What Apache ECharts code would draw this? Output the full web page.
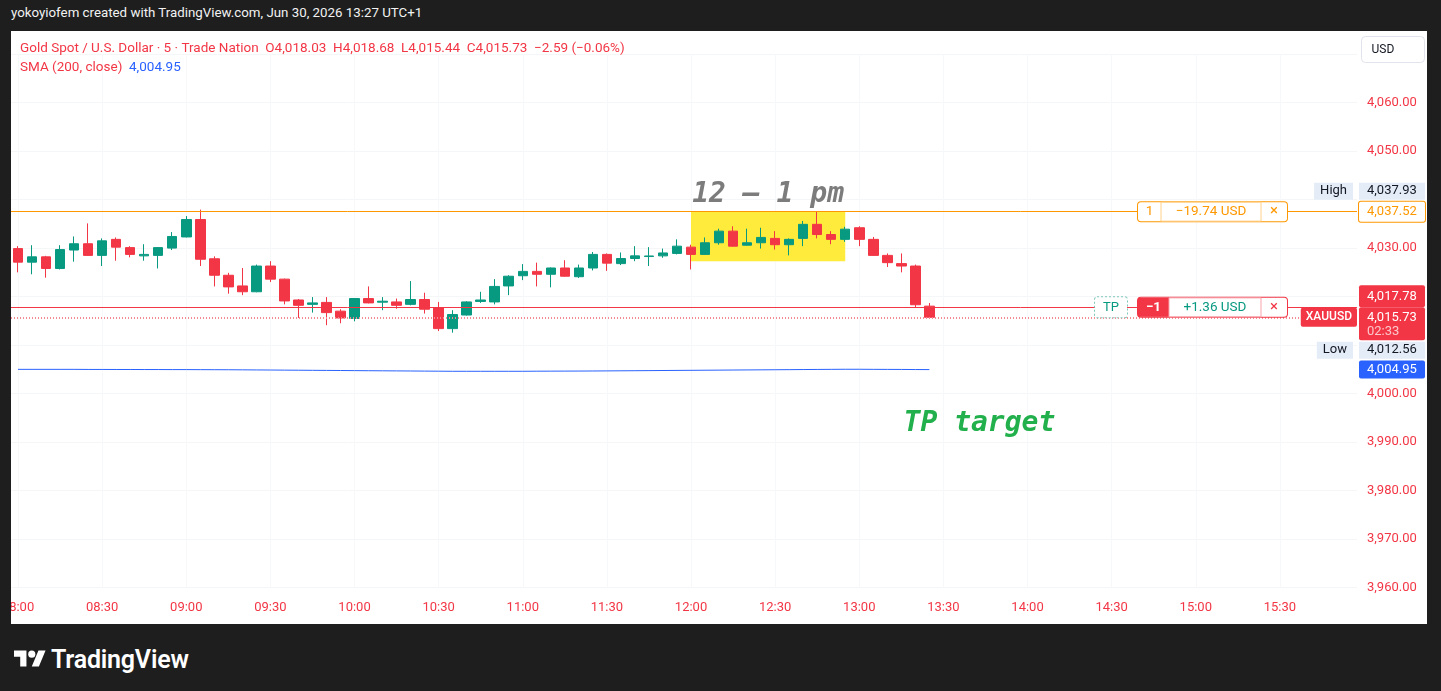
<!DOCTYPE html>
<html><head><meta charset="utf-8">
<script src="https://cdn.jsdelivr.net/npm/echarts@6/dist/echarts.min.js"></script>
<style>
html,body{margin:0;padding:0;background:#1e1e1e;width:1441px;height:691px;overflow:hidden;}
#title{position:absolute;left:11px;top:5px;color:#f2f2f2;font:13.3px Roboto,"Noto Sans",sans-serif;white-space:nowrap;}
#chart{position:absolute;left:11px;top:31px;width:1416px;height:593px;background:#fff;}
#logo{position:absolute;left:14px;top:645px;display:flex;align-items:center;}
#logo span{font:600 25px Roboto,"Noto Sans",sans-serif;color:#fff;margin-left:5px;letter-spacing:-0.2px;}
</style></head><body>
<div id="title">yokoyiofem created with TradingView.com, Jun 30, 2026 13:27 UTC+1</div>
<div id="chart"></div>
<div id="logo"><svg width="32" height="25" viewBox="0 0 36 28"><path fill="#fff" d="M14 22H7V11H0V4h14v18zM28 22h-8l7.5-18h8L28 22z"/><circle fill="#fff" cx="20" cy="8" r="4"/></svg><span>TradingView</span></div>
<script>
// ---------- data ----------
const categories = [
'08:00','08:05','08:10','08:15','08:20','08:25','08:30','08:35','08:40','08:45','08:50','08:55',
'09:00','09:05','09:10','09:15','09:20','09:25','09:30','09:35','09:40','09:45','09:50','09:55',
'10:00','10:05','10:10','10:15','10:20','10:25','10:30','10:35','10:40','10:45','10:50','10:55',
'11:00','11:05','11:10','11:15','11:20','11:25','11:30','11:35','11:40','11:45','11:50','11:55',
'12:00','12:05','12:10','12:15','12:20','12:25','12:30','12:35','12:40','12:45','12:50','12:55',
'13:00','13:05','13:10','13:15','13:20','13:25','13:30','13:35','13:40','13:45','13:50','13:55',
'14:00','14:05','14:10','14:15','14:20','14:25','14:30','14:35','14:40','14:45','14:50','14:55',
'15:00','15:05','15:10','15:15','15:20','15:25','15:30','15:35','15:40','15:45','15:50','15:55'
];
const opens = [
4029.9,4027.1,4028.2,4025.8,4029.6,4030.9,4028.5,4031.8,4030.1,4028.4,4028.5,4030.0,
4032.3,4035.9,4027.8,4024.4,4022.2,4021.0,4026.3,4023.6,4019.3,4018.4,4018.8,4017.0,
4015.5,4019.6,4018.85,4018.9,4018.4,4019.4,4017.7,4013.4,4016.2,4019.0,4018.9,4022.2,
4024.3,4025.2,4024.6,4025.9,4024.1,4025.9,4028.7,4026.8,4027.85,4028.26,4028.4,4028.9,
4030.2,4028.7,4031.1,4033.5,4030.6,4031.1,4032.0,4030.7,4032.0,4034.9,4032.8,4031.8,
4034.2,4031.8,4028.5,4026.8,4026.3,4018.03
];
const highs = [
4030.4,4030.6,4028.4,4030.6,4032.4,4035.1,4032.0,4032.2,4030.4,4030.8,4030.2,4033.3,
4036.6,4037.93,4028.3,4024.9,4025.9,4026.6,4027.3,4023.7,4019.5,4019.9,4019.9,4017.4,
4019.7,4022.1,4019.9,4019.6,4023.2,4020.8,4018.9,4017.2,4019.05,4021.0,4023.6,4024.4,
4026.7,4027.0,4026.0,4027.5,4026.6,4029.2,4028.9,4029.1,4030.4,4030.2,4029.9,4031.8,
4030.7,4032.2,4034.0,4034.5,4034.0,4034.2,4033.5,4032.0,4035.6,4037.45,4033.5,4034.4,
4034.5,4032.3,4028.9,4028.9,4026.6,4018.68
];
const lows = [
4025.0,4024.6,4023.9,4025.6,4027.2,4028.4,4026.3,4027.4,4028.1,4027.4,4025.8,4029.6,
4032.2,4026.3,4022.1,4020.6,4020.3,4020.9,4023.0,4018.4,4015.6,4016.7,4014.1,4014.5,
4014.9,4018.6,4017.2,4017.5,4018.2,4016.5,4012.9,4012.56,4016.1,4018.7,4018.4,4020.3,
4023.4,4022.1,4021.9,4024.1,4023.85,4025.4,4025.3,4026.5,4027.3,4026.3,4028.0,4028.7,
4025.6,4028.6,4030.7,4030.3,4030.5,4029.9,4029.7,4028.5,4030.4,4032.0,4030.8,4031.3,
4030.4,4028.4,4026.1,4025.0,4017.8,4015.44
];
const closes = [
4027.1,4028.2,4025.8,4029.7,4030.9,4028.5,4031.5,4030.2,4028.7,4028.7,4030.1,4032.4,
4035.9,4027.7,4024.4,4022.0,4021.0,4026.3,4023.6,4019.1,4018.2,4018.7,4016.7,4015.6,
4019.6,4018.7,4019.05,4018.2,4019.4,4017.4,4013.4,4016.3,4018.9,4019.3,4022.1,4024.2,
4025.2,4024.6,4025.9,4024.2,4025.9,4028.7,4026.9,4027.85,4028.4,4028.38,4029.0,4030.4,
4028.7,4031.1,4033.5,4030.4,4031.1,4032.2,4030.7,4031.8,4034.9,4032.8,4031.8,4033.9,
4031.8,4028.5,4027.0,4026.3,4018.32,4015.73
];
const smaValues = [
4005.0,4005.0,4005.0,4005.0,4005.0,4004.98,4004.98,4004.97,4004.97,4004.96,4004.96,4004.95,
4004.95,4004.94,4004.93,4004.92,4004.9,4004.88,4004.86,4004.84,4004.82,4004.8,4004.78,4004.76,
4004.74,4004.72,4004.7,4004.68,4004.66,4004.64,4004.62,4004.6,4004.6,4004.6,4004.6,4004.6,
4004.6,4004.62,4004.63,4004.64,4004.65,4004.66,4004.68,4004.7,4004.72,4004.74,4004.76,4004.78,
4004.8,4004.82,4004.84,4004.86,4004.88,4004.9,4004.92,4004.94,4004.96,4004.98,4005.0,4005.02,
4005.02,4005.0,4004.99,4004.98,4004.96,4004.95
];
const priceTicks = [3960, 3970, 3980, 3990, 4000, 4030, 4050, 4060];
const entryPrice = 4037.52;
const sessionHigh = 4037.93;
const tpPrice = 4017.78;
const lastPrice = 4015.73;
const sessionLow = 4012.56;
const entryPnl = '−19.74 USD';
const tpPnl = '+1.36 USD';
const barCountdown = '02:33';
const highlightRange = ['12:00', '12:55'];
const highlightPrices = [4037.45, 4027.3];
const highlightText = '12 – 1 pm';
const tpText = 'TP target';
const tpTextAnchor = ['13:40', 3993.7];

// ---------- helpers ----------
const FONT = 'Roboto, "Noto Sans", sans-serif';
const MONO = '"DejaVu Sans Mono", "Liberation Mono", monospace';
const RED = '#f23645', GREEN = '#089981', ORANGE = '#ff9800', BLUE = '#2962ff';
function fmt(v) {
  const s = Math.abs(v).toFixed(2).split('.');
  return (v < 0 ? '−' : '') + s[0].replace(/\B(?=(\d{3})+(?!\d))/g, ',') + '.' + s[1];
}
const hiddenLine = { color: 'rgba(255,255,255,0)', width: 1, opacity: 0 };
function lbl(extra) {
  return Object.assign({ show: true, position: 'insideEndTop', fontFamily: FONT, fontSize: 13,
    lineHeight: 15, opacity: 1 }, extra);
}
const last = opens.length - 1;
const chg = closes[last] - closes[last - 1];
const chgPct = chg / closes[last - 1] * 100;
const headerText = '{r|Gold Spot / U.S. Dollar · 5 · Trade Nation  O' + fmt(opens[last]) +
  '  H' + fmt(highs[last]) + '  L' + fmt(lows[last]) + '  C' + fmt(closes[last]) +
  '  ' + fmt(chg) + ' (' + fmt(chgPct) + '%)}\n{r|SMA (200, close)}  {b|' + fmt(smaValues[last]) + '}';

const candleData = opens.map((o, i) => [o, closes[i], lows[i], highs[i]]);

const chart = echarts.init(document.getElementById('chart'), null, { renderer: 'canvas' });
chart.setOption({
  animation: false,
  backgroundColor: '#ffffff',
  grid: { left: 0, right: 70, top: 23.1, bottom: 36.4, containLabel: false, outerBoundsMode: 'none' },
  xAxis: {
    type: 'category', data: categories, boundaryGap: true,
    axisLine: { show: false }, axisTick: { show: false, alignWithLabel: true, interval: 5 },
    axisLabel: { interval: 5, color: RED, fontSize: 13, margin: 14, fontFamily: FONT },
    splitLine: { show: true, interval: 5, alignWithLabel: true, lineStyle: { color: '#f7f8fa', width: 1 } }
  },
  yAxis: {
    type: 'value', position: 'right', min: 3960, max: 4070, interval: 10, scale: true,
    axisLine: { show: false }, axisTick: { show: false },
    axisLabel: { color: RED, fontSize: 13, margin: 10, fontFamily: FONT,
      formatter: v => priceTicks.indexOf(Math.round(v)) >= 0 ? fmt(v) : '' },
    splitLine: { show: true, lineStyle: { color: '#f5f6f8', width: 1 } }
  },
  graphic: [
    { type: 'text', left: 9, top: 8.5, silent: true, z: 100,
      style: { text: headerText, fontFamily: FONT, fontSize: 13.5, lineHeight: 19,
        rich: { r: { fill: RED, fontFamily: FONT, fontSize: 13.5, lineHeight: 19 },
                b: { fill: BLUE, fontFamily: FONT, fontSize: 13.5, lineHeight: 19 } } } },
    { type: 'group', right: 2, top: 5, z: 100, children: [
      { type: 'rect', shape: { x: 0, y: 0, width: 63, height: 26, r: 4 },
        style: { fill: '#fff', stroke: '#e0e3eb', lineWidth: 1 } },
      { type: 'text', x: 10, y: 13, style: { text: 'USD', fill: '#131722', fontFamily: FONT,
        fontSize: 12, verticalAlign: 'middle' } }
    ] }
  ],
  series: [
    {
      type: 'candlestick', data: candleData, barWidth: 10,
      itemStyle: { color: GREEN, color0: RED, borderColor: GREEN, borderColor0: RED, borderWidth: 1 },
      markArea: {
        silent: true,
        itemStyle: { color: '#ffeb3b', opacity: 1 },
        label: { show: true, position: 'top', distance: 3, formatter: () => highlightText,
          color: '#7c7c7c', fontFamily: MONO, fontWeight: 'bold', fontStyle: 'italic', fontSize: 28 },
        data: [[{ xAxis: highlightRange[0], yAxis: highlightPrices[0] },
                { xAxis: highlightRange[1], yAxis: highlightPrices[1] }]]
      },
      markPoint: {
        silent: true,
        data: [{ coord: tpTextAnchor, symbol: 'rect', symbolSize: 1,
          itemStyle: { color: 'rgba(0,0,0,0)' },
          label: { show: true, position: 'inside', offset: [8, 0], formatter: () => tpText,
            color: '#21b04b', fontFamily: MONO, fontWeight: 'bold', fontStyle: 'italic', fontSize: 28 } }]
      }
    },
    {
      type: 'line', data: smaValues, showSymbol: false, symbol: 'none', z: 3,
      lineStyle: { color: BLUE, width: 1 },
      markLine: {
        symbol: ['none', 'none'], silent: true,
        lineStyle: { color: RED, width: 1, type: 'solid', opacity: 1 },
        data: [
          // visible horizontal lines
          { yAxis: lastPrice, lineStyle: { color: '#f58a95', width: 2, type: [1, 2], opacity: 1 },
            label: { show: false } },
          { yAxis: tpPrice, lineStyle: { color: '#f23645', width: 1, type: 'solid', opacity: 1 },
            label: { show: false } },
          { yAxis: entryPrice, lineStyle: { color: '#ff9800', width: 1, type: 'solid', opacity: 1 },
            label: { show: false } },
          // price tags and order boxes
          { yAxis: smaValues[last], lineStyle: hiddenLine,
            label: lbl({ distance: [-2, 0], align: 'left', verticalAlign: 'middle', formatter: () => fmt(smaValues[last]),
              color: '#fff', backgroundColor: BLUE, padding: [2, 8, 1, 8], width: 50, borderRadius: 2 }) },
          { yAxis: lastPrice, lineStyle: hiddenLine,
            label: lbl({ distance: [0, 0], align: 'right', verticalAlign: 'middle', formatter: () => 'XAUUSD',
              color: '#fff', fontSize: 12, fontWeight: 500, backgroundColor: RED, padding: [3, 5, 2, 5],
              lineHeight: 14, borderRadius: 2 }) },
          { yAxis: tpPrice, lineStyle: hiddenLine,
            label: lbl({ distance: [-2, 0], align: 'left', verticalAlign: 'bottom', formatter: () => fmt(tpPrice),
              color: '#fff', backgroundColor: RED, padding: [4, 8, 3, 8], width: 50, borderRadius: 2 }) },
          { yAxis: tpPrice, lineStyle: hiddenLine,
            label: lbl({ distance: [70, 0], align: 'right', verticalAlign: 'middle',
              formatter: () => '{a|−1}{b|' + tpPnl + '}{c|×}',
              backgroundColor: '#fff', borderColor: RED, borderWidth: 1, borderRadius: 3, padding: 0,
              rich: {
                a: { width: 31, height: 19, lineHeight: 19, align: 'center', color: '#fff', backgroundColor: RED,
                     fontFamily: FONT, fontSize: 13.5, fontWeight: 'bold' },
                b: { width: 92, height: 19, lineHeight: 19, align: 'center', color: GREEN,
                     fontFamily: FONT, fontSize: 13.5, borderColor: '#f7a3ab', borderWidth: 1 },
                c: { width: 26, height: 19, lineHeight: 19, align: 'center', color: RED,
                     fontFamily: FONT, fontSize: 15 } } }) },
          { yAxis: tpPrice, lineStyle: hiddenLine,
            label: lbl({ distance: [230, 0], align: 'right', verticalAlign: 'middle', formatter: () => 'TP',
              color: GREEN, backgroundColor: '#fff', borderColor: '#7cc7b9', borderWidth: 1,
              borderType: 'dotted', padding: [3, 8, 2, 8], borderRadius: 2 }) },
          { yAxis: lastPrice, lineStyle: hiddenLine,
            label: lbl({ position: 'insideEndBottom', distance: [-2, -10], align: 'left', verticalAlign: 'top',
              formatter: () => '{v|' + fmt(lastPrice) + '}\n{t|' + barCountdown + '}',
              backgroundColor: RED, padding: [3, 8, 2, 8], width: 50, borderRadius: 2,
              rich: { v: { color: '#fff', fontFamily: FONT, fontSize: 13, lineHeight: 14 },
                      t: { color: 'rgba(255,255,255,0.72)', fontFamily: FONT, fontSize: 13, lineHeight: 14 } } }) },
          { yAxis: entryPrice, lineStyle: hiddenLine,
            label: lbl({ distance: [-2, 0], align: 'left', verticalAlign: 'middle', formatter: () => fmt(entryPrice),
              color: ORANGE, backgroundColor: '#fff', borderColor: ORANGE, borderWidth: 1, borderRadius: 2,
              padding: [3, 8, 2, 8], width: 50 }) },
          { yAxis: entryPrice, lineStyle: hiddenLine,
            label: lbl({ distance: [70, 0], align: 'right', verticalAlign: 'middle',
              formatter: () => '{a|1}{b|' + entryPnl + '}{c|×}',
              backgroundColor: '#fff', borderColor: ORANGE, borderWidth: 1, borderRadius: 3, padding: 0,
              rich: {
                a: { width: 23, height: 19, lineHeight: 19, align: 'center', color: ORANGE, fontFamily: FONT, fontSize: 13.5 },
                b: { width: 100, height: 19, lineHeight: 19, align: 'center', color: ORANGE, fontFamily: FONT,
                     fontSize: 13.5, borderColor: '#ffd08a', borderWidth: 1 },
                c: { width: 26, height: 19, lineHeight: 19, align: 'center', color: ORANGE, fontFamily: FONT, fontSize: 15 } } }) },
          { yAxis: sessionHigh, lineStyle: hiddenLine,
            label: lbl({ distance: [4, 10], align: 'right', verticalAlign: 'bottom', formatter: () => 'High',
              color: '#131722', backgroundColor: '#e3ecf7', padding: [1, 6, 1, 6] }) },
          { yAxis: sessionHigh, lineStyle: hiddenLine,
            label: lbl({ distance: [-2, 10], align: 'left', verticalAlign: 'bottom', formatter: () => fmt(sessionHigh),
              color: '#131722', backgroundColor: '#e3ecf7', padding: [1, 8, 1, 8], width: 50 }) },
          { yAxis: sessionLow, lineStyle: hiddenLine,
            label: lbl({ position: 'insideEndBottom', distance: [4, 9], align: 'right', verticalAlign: 'top',
              formatter: () => 'Low', color: '#131722', backgroundColor: '#e3ecf7', padding: [1, 6, 1, 6] }) },
          { yAxis: sessionLow, lineStyle: hiddenLine,
            label: lbl({ position: 'insideEndBottom', distance: [-2, 9], align: 'left', verticalAlign: 'top',
              formatter: () => fmt(sessionLow), color: '#131722', backgroundColor: '#e3ecf7',
              padding: [1, 8, 1, 8], width: 50 }) }
        ]
      }
    }
  ]
});
</script>
</body></html>
